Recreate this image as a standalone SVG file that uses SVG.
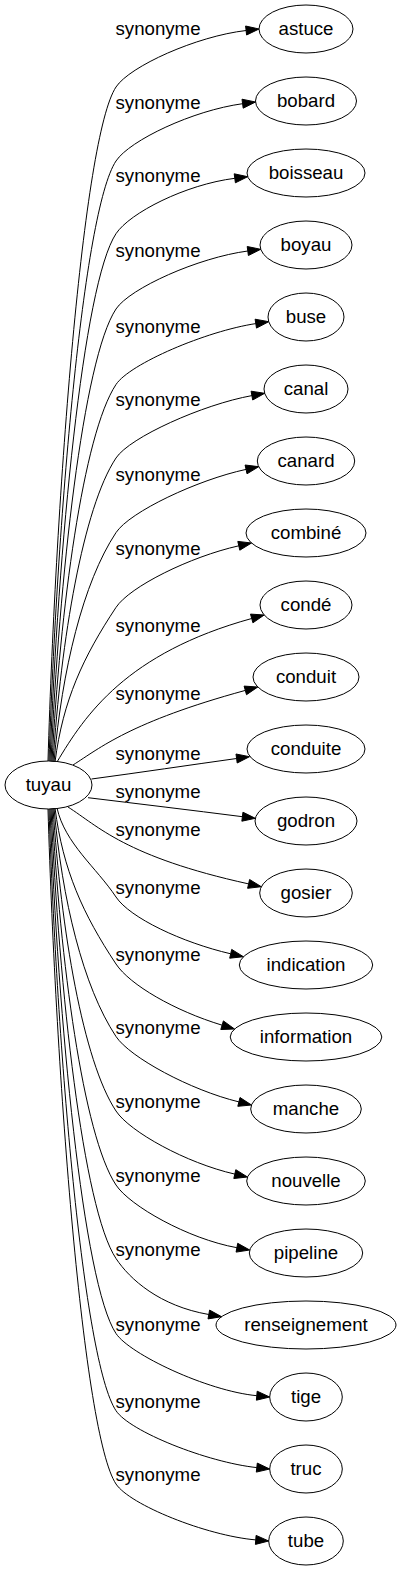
<svg xmlns="http://www.w3.org/2000/svg" width="402" height="1571" viewBox="0 0 402 1571">
<style>
text{font-family:"Liberation Sans",Arial,sans-serif;font-size:18.67px;text-anchor:middle;fill:#000}
.node ellipse{fill:none;stroke:#000;stroke-width:1}
.edge path{fill:none;stroke:#000;stroke-width:1}
.edge polygon{fill:#000;stroke:#000;stroke-width:1}
</style>
<rect width="402" height="1571" fill="#fff"/>
<g id="edges">
<g class="edge" id="e-astuce"><path d="M48,761 C56,491.4 83,136.8 116,87 C129.75,66.25 196.4,36.2 246.1,30.5"/><polygon points="259,29 246.6,35 245.6,26"/><text x="158" y="35">synonyme</text></g>
<g class="edge" id="e-bobard"><path d="M49,761 C57,521 83,210.8 116,161 C129.75,140.25 193.05,110.4 242.6,103.7"/><polygon points="255.5,102 243.2,108.2 242,99.2"/><text x="158" y="109">synonyme</text></g>
<g class="edge" id="e-boisseau"><path d="M50,761 C58,550.1 83,283.5 116,233.7 C129.75,212.95 185.2,184.55 234.8,178.3"/><polygon points="247.7,176.7 235.4,182.8 234.2,173.8"/><text x="158" y="181.7">synonyme</text></g>
<g class="edge" id="e-boyau"><path d="M51,761.5 C59,580.5 83,358.8 116,309 C129.75,288.25 198.25,257.55 247.8,251"/><polygon points="260.7,249.3 248.4,255.5 247.2,246.5"/><text x="158" y="257">synonyme</text></g>
<g class="edge" id="e-buse"><path d="M52,761.5 C60,610.7 83,434.3 116,384.5 C129.75,363.75 206.35,331.05 255.8,323.6"/><polygon points="268.7,321.7 256.5,328.1 255.1,319.2"/><text x="158" y="332.5">synonyme</text></g>
<g class="edge" id="e-canal"><path d="M53,762 C61,640.4 83,507.8 116,458 C129.75,437.25 202.7,404.55 251.9,395.6"/><polygon points="264.7,393.3 252.7,400 251.1,391.2"/><text x="158" y="406">synonyme</text></g>
<g class="edge" id="e-canard"><path d="M54,762 C62,670.2 83,582.4 116,532.6 C129.75,511.85 197.15,479.95 246,469.4"/><polygon points="258.7,466.7 247,473.8 245.1,465"/><text x="158" y="480.6">synonyme</text></g>
<g class="edge" id="e-combine"><path d="M55,762 C63,700.2 83,657.2 116,607.4 C129.75,586.65 190,556.75 238.8,545.8"/><polygon points="251.5,543 239.8,550.2 237.8,541.4"/><text x="158" y="555.4">synonyme</text></g>
<g class="edge" id="e-conde"><path d="M57,762 C85,715 126.4,653.1 251.7,618.5"/><polygon points="264.2,615 252.9,622.8 250.5,614.1"/><text x="158" y="631.5">synonyme</text></g>
<g class="edge" id="e-conduit"><path d="M73,765 C100,748 130,722 245.3,690.4"/><polygon points="257.8,687 246.5,694.7 244.1,686.1"/><text x="158" y="700">synonyme</text></g>
<g class="edge" id="e-conduite"><path d="M91.5,779 C140,772.5 190,765 236.6,758.5"/><polygon points="249.5,756.7 237.2,763 236,754"/><text x="158" y="760">synonyme</text></g>
<g class="edge" id="e-godron"><path d="M88,797.7 C140,804 190,810 242.4,816.7"/><polygon points="255.3,818.3 241.85,821.2 242.95,812.2"/><text x="158" y="797.7">synonyme</text></g>
<g class="edge" id="e-gosier"><path d="M68,807 C98,826 125.1,856.7 248.6,883.9"/><polygon points="261.3,886.7 247.6,888.3 249.6,879.5"/><text x="158" y="836">synonyme</text></g>
<g class="edge" id="e-indication"><path d="M57,808 C65,843.6 96.4,867.5 116,897 C129.75,917.75 182,942.5 230.7,953.8"/><polygon points="243.4,956.7 229.7,958.2 231.7,949.4"/><text x="158" y="894">synonyme</text></g>
<g class="edge" id="e-information"><path d="M55,808 C63,870.4 83,914.2 116,964 C129.75,984.75 174.25,1010.65 222.1,1025.2"/><polygon points="234.5,1029 220.8,1029.5 223.4,1020.9"/><text x="158" y="961">synonyme</text></g>
<g class="edge" id="e-manche"><path d="M54,808 C62,899.4 83,986.7 116,1036.5 C129.75,1057.25 190.3,1090.1 238.9,1101.9"/><polygon points="251.5,1105 237.8,1106.3 240,1097.5"/><text x="158" y="1033.5">synonyme</text></g>
<g class="edge" id="e-nouvelle"><path d="M53,808 C61,929.2 83,1061.2 116,1111 C129.75,1131.75 186.05,1162.95 234.8,1174.1"/><polygon points="247.5,1177 233.8,1178.5 235.8,1169.7"/><text x="158" y="1108">synonyme</text></g>
<g class="edge" id="e-pipeline"><path d="M52,808.5 C60,959.1 83,1135.2 116,1185 C129.75,1205.75 187.7,1238.8 236.9,1247.7"/><polygon points="249.7,1250 236.1,1252.1 237.7,1243.3"/><text x="158" y="1182">synonyme</text></g>
<g class="edge" id="e-renseignement"><path d="M51,808.5 C59,988.5 83,1208.7 116,1258.5 C129.75,1279.25 159.55,1306 208.8,1314.5"/><polygon points="221.6,1316.7 208,1318.9 209.6,1310.1"/><text x="158" y="1255.5">synonyme</text></g>
<g class="edge" id="e-tige"><path d="M50,809 C58,1018.8 83,1283.7 116,1333.5 C129.75,1354.25 207.05,1390.9 256.8,1395.7"/><polygon points="269.7,1397 256.4,1400.2 257.2,1391.2"/><text x="158" y="1330.5">synonyme</text></g>
<g class="edge" id="e-truc"><path d="M49,809 C57,1049.7 83,1360.9 116,1410.7 C129.75,1431.45 207.1,1462.25 256.8,1467.6"/><polygon points="269.7,1469 256.3,1472.1 257.3,1463.1"/><text x="158" y="1407.7">synonyme</text></g>
<g class="edge" id="e-tube"><path d="M48,809 C56,1079 83,1434.2 116,1484 C129.75,1504.75 205.95,1535.55 255.75,1539.9"/><polygon points="268.7,1541 255.4,1544.4 256.1,1535.4"/><text x="158" y="1481">synonyme</text></g>
</g>
<g class="node" id="n-tuyau"><ellipse cx="48.5" cy="785" rx="43.5" ry="24"/><text x="48.5" y="791">tuyau</text></g>
<g class="node" id="n-astuce"><ellipse cx="306" cy="29" rx="47" ry="24"/><text x="306" y="35">astuce</text></g>
<g class="node" id="n-bobard"><ellipse cx="306" cy="101" rx="50.5" ry="24"/><text x="306" y="107">bobard</text></g>
<g class="node" id="n-boisseau"><ellipse cx="306" cy="173" rx="59" ry="24"/><text x="306" y="179">boisseau</text></g>
<g class="node" id="n-boyau"><ellipse cx="306" cy="245" rx="46" ry="24"/><text x="306" y="251">boyau</text></g>
<g class="node" id="n-buse"><ellipse cx="306" cy="317" rx="38" ry="24"/><text x="306" y="323">buse</text></g>
<g class="node" id="n-canal"><ellipse cx="306" cy="389" rx="42" ry="24"/><text x="306" y="395">canal</text></g>
<g class="node" id="n-canard"><ellipse cx="306" cy="461" rx="48.7" ry="24"/><text x="306" y="467">canard</text></g>
<g class="node" id="n-combine"><ellipse cx="306" cy="533" rx="60" ry="24"/><text x="306" y="539">combiné</text></g>
<g class="node" id="n-conde"><ellipse cx="306" cy="605" rx="46" ry="24"/><text x="306" y="611">condé</text></g>
<g class="node" id="n-conduit"><ellipse cx="306" cy="677" rx="53" ry="24"/><text x="306" y="683">conduit</text></g>
<g class="node" id="n-conduite"><ellipse cx="306" cy="749" rx="59" ry="24"/><text x="306" y="755">conduite</text></g>
<g class="node" id="n-godron"><ellipse cx="306" cy="821" rx="51" ry="24"/><text x="306" y="827">godron</text></g>
<g class="node" id="n-gosier"><ellipse cx="306" cy="893" rx="46.3" ry="24"/><text x="306" y="899">gosier</text></g>
<g class="node" id="n-indication"><ellipse cx="306" cy="965" rx="66.7" ry="24"/><text x="306" y="971">indication</text></g>
<g class="node" id="n-information"><ellipse cx="306" cy="1037" rx="75.8" ry="24"/><text x="306" y="1043">information</text></g>
<g class="node" id="n-manche"><ellipse cx="306" cy="1109" rx="55.3" ry="24"/><text x="306" y="1115">manche</text></g>
<g class="node" id="n-nouvelle"><ellipse cx="306" cy="1181" rx="59.3" ry="24"/><text x="306" y="1187">nouvelle</text></g>
<g class="node" id="n-pipeline"><ellipse cx="306" cy="1253" rx="56.7" ry="24"/><text x="306" y="1259">pipeline</text></g>
<g class="node" id="n-renseignement"><ellipse cx="306" cy="1325" rx="90" ry="24"/><text x="306" y="1331">renseignement</text></g>
<g class="node" id="n-tige"><ellipse cx="306" cy="1397" rx="36.3" ry="24"/><text x="306" y="1403">tige</text></g>
<g class="node" id="n-truc"><ellipse cx="306" cy="1469" rx="36.3" ry="24"/><text x="306" y="1475">truc</text></g>
<g class="node" id="n-tube"><ellipse cx="306" cy="1541" rx="37.3" ry="24"/><text x="306" y="1547">tube</text></g>
</svg>
